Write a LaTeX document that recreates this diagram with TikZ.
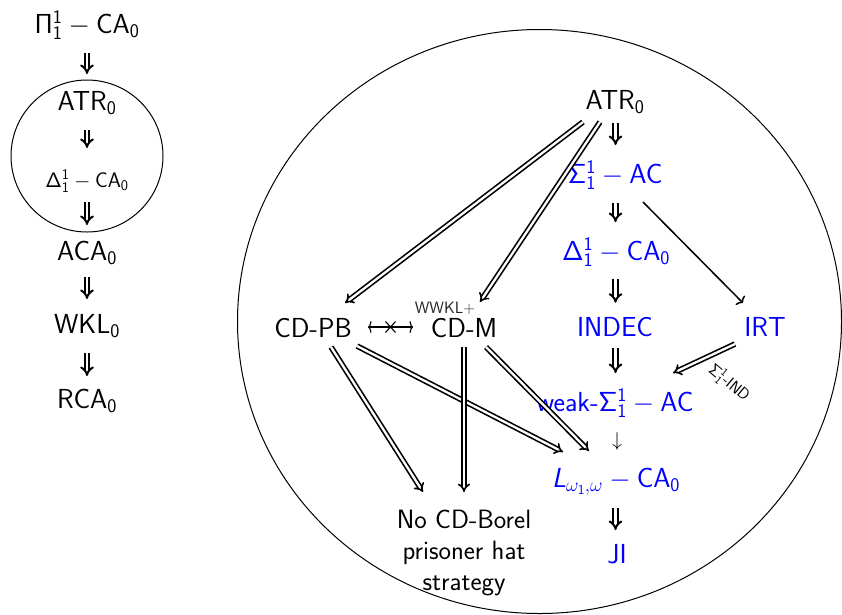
\RequirePackage{fix-cm}
\documentclass[tikz,border=0pt]{standalone}
\usetikzlibrary{arrows.meta,calc}
\begin{document}
\begin{tikzpicture}[x=1pt,y=-1pt,
  txt/.style={anchor=base,inner sep=0pt,font=\fontsize{27.5}{32}\selectfont\sffamily},
  bl/.style={txt,text=blue},
  dbl/.style={double,double distance=2.3pt,line width=1.65pt,-{Implies}},
  vdn/.style={double,double distance=2.4pt,line width=2pt,-{Implies}},
  sgl/.style={line width=1.5pt,-{To[length=4.5pt,width=13pt]}},
  ring/.style={draw,line width=1pt}]
\useasboundingbox (0,0) rectangle (842,614);
% left column
\node[txt] (pi) at (87,33) {$\mathsf{\Pi^1_1 - CA_0}$};
\node[txt] (atrL) at (87,110) {ATR$_\mathsf{0}$};
\node[txt,font=\fontsize{21}{25}\selectfont\sffamily] (delL) at (87,187) {$\mathsf{\Delta^1_1 - CA_0}$};
\node[txt] (aca) at (87,260) {$\mathsf{ACA_0}$};
\node[txt] (wkl) at (87,333) {$\mathsf{WKL_0}$};
\node[txt] (rca) at (87,408) {$\mathsf{RCA_0}$};
\draw[vdn] ($(pi.base)+(0,20)$) -- ($(atrL.base)+(0,-36)$);
\draw[vdn] ($(atrL.base)+(0,20)$) -- ($(delL.base)+(0,-39)$);
\draw[vdn] ($(delL.base)+(0,15)$) -- ($(aca.base)+(0,-35)$);
\draw[vdn] ($(aca.base)+(0,17)$) -- ($(wkl.base)+(0,-34)$);
\draw[vdn] ($(wkl.base)+(0,20)$) -- ($(rca.base)+(0,-32)$);
\draw[ring] (87,156) circle[radius=76pt];
% big ellipse
\draw[ring] (539.5,321.5) ellipse[x radius=302pt,y radius=292pt];
% right diagram nodes
\node[txt] (atrR) at (615,109.5) {ATR$_\mathsf{0}$};
\node[bl] (sig) at (615,183) {$\mathsf{\Sigma^1_1 - AC}$};
\node[bl] (del) at (616,260) {$\mathsf{\Delta^1_1 - CA_0}$};
\node[bl] (indec) at (615,336.7) {INDEC};
\node[bl] (irt) at (765,336.7) {IRT};
\node[bl] (weak) at (615,411) {weak-$\mathsf{\Sigma^1_1 - AC}$};
\node[txt,anchor=center,font=\fontsize{20}{24}\selectfont] (r5) at (617,441) {$\downarrow$};
\node[bl] (lw) at (616,487) {$\mbox{\sffamily\itshape L}_{\omega_\mathsf{1},\omega}\mathsf{{}-CA_0}$};
\node[bl] (ji) at (617,563) {JI};
\node[txt] (cdpb) at (313,337) {CD-PB};
\node[txt] (cdm) at (464,337) {CD-M};
\node[txt,font=\fontsize{16.5}{19}\selectfont\sffamily,text=black!85] (wwkl) at (445,313) {WWKL+};
\node[anchor=north,inner sep=0pt,align=center,font=\fontsize{26.5}{31}\selectfont\sffamily] (nocd) at (464,509.5) {No CD-Borel\\prisoner hat\\strategy};
\node[anchor=center,rotate=-40,inner sep=0pt,font=\fontsize{16}{18}\selectfont\sffamily] (ind) at (729,383) {$\mathsf{\Sigma^1_1}$-IND};
% vertical implications
\draw[vdn] ($(atrR.base)+(0.5,13)$) -- ($(sig.base)+(0.5,-38)$);
\draw[vdn] ($(sig.base)+(0.5,20)$) -- ($(del.base)+(-0.5,-38)$);
\draw[vdn] ($(del.base)+(-0.5,19)$) -- ($(indec.base)+(0.5,-34)$);
\draw[vdn] ($(indec.base)+(0.5,11)$) -- ($(weak.base)+(0.5,-38)$);
\draw[vdn] ($(lw.base)+(-0.5,21)$) -- ($(ji.base)+(-1.5,-33)$);
% connectors
\draw[dbl] ($(atrR.base)+(-32,12.5)$) -- ($(cdpb.base)+(32,-34)$);
\draw[dbl] ($(atrR.base)+(-15,12.5)$) -- ($(cdm.base)+(16,-35)$);
\draw[dbl] ($(cdpb.base)+(44,9)$) -- ($(lw.base)+(-53,-35)$);
\draw[dbl] ($(cdpb.base)+(18,10)$) -- ($(nocd.north)+(-41,-17.5)$);
\draw[dbl] ($(cdm.base)+(0,10)$) -- ($(nocd.north)+(0,-17.5)$);
\draw[dbl] ($(cdm.base)+(22,10)$) -- ($(lw.base)+(-27,-36)$);
\draw[sgl] ($(sig.base)+(28,19)$) -- ($(irt.base)+(-22,-33.7)$);
\draw[dbl] ($(irt.base)+(-30,7.3)$) -- ($(weak.base)+(58,-38)$);
\draw[line width=1.1pt,{To[length=3.5pt,width=12pt]}-{To[length=3.5pt,width=12pt]}]
  ($(cdpb.base)+(55,-10)$) -- ($(cdm.base)+(-51,-10)$) coordinate[pos=0.5] (xm);
\draw[line width=1.1pt] ($(xm)+(-5,-5.5)$) -- ($(xm)+(5,5.5)$) ($(xm)+(-5,5.5)$) -- ($(xm)+(5,-5.5)$);
\end{tikzpicture}
\end{document}
